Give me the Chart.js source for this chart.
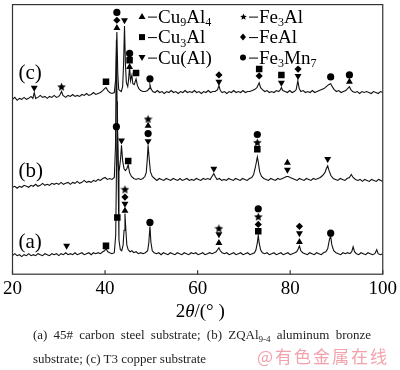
<!DOCTYPE html>
<html>
<head>
<meta charset="utf-8">
<script src="https://cdn.jsdelivr.net/npm/chart.js@4.4.1/dist/chart.umd.min.js"></script>
<style>
  html, body { margin: 0; padding: 0; background: #fff; }
  #wrap { position: relative; width: 400px; height: 370px; overflow: hidden; }
  #caption {
    position: absolute; left: 33px; top: 323px; width: 338px;
    font: 13px "Liberation Serif", serif; line-height: 24px; color: #222;
    text-align: justify;
  }
  #caption .sub { font-size: 9px; vertical-align: -3px; line-height: 0; }
  #mark {
    position: absolute; left: 257px; top: 346px; white-space: nowrap;
    font: 17px "Noto Sans CJK SC", sans-serif; line-height: 20px;
    color: #f2a2ac; letter-spacing: 2px;
  }
</style>
</head>
<body>
<div id="wrap">
  <canvas id="xrd" width="400" height="370"></canvas>
  <div id="caption">(a) 45# carbon steel substrate; (b) ZQAl<span class="sub">9-4</span> aluminum bronze substrate; (c) T3 copper substrate</div>
  <div id="mark">@有色金属在线</div>
</div>
<script>
// x ticks (2theta, degrees)
const xTicks = [20, 40, 60, 80, 100];

// patterns: [2theta, intensity (offset, a.u.)]
const patternC = [
  [20.0,179],[20.5,181],[21.0,178],[21.5,180],[22.0,179],[22.5,181],[23.0,179],[23.5,180],[24.0,182],[24.4,180],
  [24.7,186],[25.0,180],[25.5,181],[26.0,183],[26.5,181],[27.0,182],[27.5,180],[28.0,182],[28.5,181],[29.0,183],
  [29.5,181],[30.0,182],[30.3,184],[30.6,187],[30.9,183],[31.5,181],[32.0,183],[32.5,182],[33.0,184],[33.5,182],
  [34.0,183],[34.5,182],[35.0,184],[35.5,183],[36.0,185],[36.5,183],[37.0,184],[37.5,186],[38.0,184],[38.5,185],
  [39.0,186],[39.5,188],[39.9,190],[40.2,191],[40.6,188],[41.0,186],[41.5,185],[42.0,186],[42.3,200],[42.55,248],
  [42.75,205],[42.95,189],[43.2,188],[43.5,187],[43.8,192],[44.0,215],[44.2,254],[44.4,215],[44.6,196],[44.9,192],
  [45.1,200],[45.3,213],[45.5,198],[45.8,204],[46.0,195],[46.3,194],[46.7,200],[47.0,193],[47.3,190],[47.7,188],
  [48.2,187],[48.7,187],[49.2,188],[49.5,190],[49.7,194],[49.9,190],[50.3,187],[50.8,186],[51.3,188],[51.8,186],
  [52.3,187],[52.8,185],[53.3,187],[53.8,186],[54.3,188],[54.8,186],[55.3,187],[55.8,185],[56.3,187],[56.8,186],
  [57.3,188],[57.8,186],[58.3,187],[58.8,186],[59.3,188],[59.8,186],[60.3,187],[60.8,185],[61.3,187],[61.8,186],
  [62.3,188],[62.8,186],[63.3,187],[63.8,187],[64.3,189],[64.6,193],[64.9,188],[65.3,186],[65.8,187],[66.3,185],
  [66.8,187],[67.3,186],[67.8,188],[68.3,186],[68.8,187],[69.3,186],[69.8,188],[70.3,186],[70.8,187],[71.3,187],
  [71.8,188],[72.3,189],[72.8,191],[73.1,194],[73.3,196],[73.6,191],[74.0,189],[74.5,187],[75.0,188],[75.5,186],
  [76.0,187],[76.5,186],[77.0,188],[77.5,187],[77.9,189],[78.1,191],[78.4,188],[78.9,187],[79.4,186],[79.9,188],
  [80.4,186],[80.9,187],[81.3,189],[81.65,198],[81.95,190],[82.3,187],[82.8,188],[83.3,186],[83.8,187],[84.3,186],
  [84.8,188],[85.3,186],[85.8,187],[86.3,188],[86.8,189],[87.3,190],[87.8,192],[88.3,194],[88.75,195],[89.1,192],
  [89.5,189],[90.0,187],[90.5,188],[91.0,186],[91.5,187],[92.0,188],[92.4,190],[92.8,192],[93.1,189],[93.5,187],
  [94.0,186],[94.5,187],[95.0,185],[95.5,187],[96.0,186],[96.5,187],[97.0,186],[97.5,185],[98.0,187],[98.5,186],
  [99.0,185],[99.5,187],[100,186]
];

const patternB = [
  [20.0,89],[20.5,90],[21.0,88],[21.5,90],[22.0,89],[22.5,91],[23.0,90],[23.5,89],[24.0,91],[24.5,90],
  [25.0,92],[25.5,90],[26.0,91],[26.5,93],[27.0,91],[27.5,92],[28.0,91],[28.5,93],[29.0,92],[29.5,93],
  [30.0,92],[30.5,94],[31.0,92],[31.5,93],[32.0,94],[32.5,92],[33.0,94],[33.5,93],[34.0,95],[34.5,93],
  [35.0,94],[35.5,96],[36.0,94],[36.5,95],[37.0,94],[37.5,96],[38.0,95],[38.5,97],[39.0,96],[39.5,98],
  [40.0,99],[40.5,97],[41.0,98],[41.5,97],[42.0,99],[42.25,130],[42.45,240],[42.65,150],[42.85,112],[43.1,108],
  [43.35,118],[43.55,132],[43.8,116],[44.1,108],[44.4,106],[44.7,108],[45.0,112],[45.3,104],[45.7,100],[46.2,98],
  [46.7,97],[47.2,98],[47.7,97],[48.2,98],[48.6,100],[48.9,104],[49.1,116],[49.3,132],[49.5,120],[49.8,105],
  [50.2,100],[50.7,98],[51.2,96],[51.7,98],[52.2,97],[52.7,96],[53.2,98],[53.7,97],[54.2,96],[54.7,98],
  [55.2,97],[55.7,96],[56.2,98],[56.7,96],[57.2,97],[57.7,98],[58.2,96],[58.7,97],[59.2,96],[59.7,98],
  [60.2,97],[60.7,96],[61.2,98],[61.7,97],[62.2,98],[62.7,97],[63.1,100],[63.5,103],[63.8,100],[64.2,97],
  [64.7,98],[65.2,96],[65.7,97],[66.2,96],[66.7,98],[67.2,97],[67.7,96],[68.2,98],[68.7,97],[69.2,96],
  [69.7,98],[70.2,97],[70.7,96],[71.2,98],[71.7,99],[72.1,102],[72.5,110],[72.9,120],[73.1,115],[73.4,105],
  [73.8,100],[74.3,98],[74.8,97],[75.3,96],[75.8,98],[76.3,97],[76.8,96],[77.3,98],[77.8,97],[78.3,98],
  [78.8,99],[79.2,100],[79.6,100],[80.0,99],[80.5,98],[81.0,97],[81.5,96],[82.0,98],[82.5,97],[83.0,96],
  [83.5,98],[84.0,97],[84.5,96],[85.0,98],[85.5,97],[86.0,98],[86.5,99],[87.0,101],[87.5,104],[87.8,108],
  [88.1,111],[88.4,106],[88.8,101],[89.3,98],[89.8,97],[90.3,96],[90.8,98],[91.3,97],[91.8,96],[92.3,98],
  [92.8,99],[93.2,102],[93.6,99],[94.1,97],[94.6,96],[95.1,97],[95.6,95],[96.1,97],[96.6,96],[97.1,95],
  [97.6,97],[98.1,96],[98.6,95],[99.1,97],[99.6,96],[100,95]
];

const patternA = [
  [20.0,19],[20.5,21],[21.0,19],[21.5,20],[22.0,18],[22.5,20],[23.0,19],[23.5,21],[24.0,19],[24.5,20],
  [25.0,19],[25.5,21],[26.0,20],[26.5,19],[27.0,21],[27.5,20],[28.0,19],[28.5,21],[29.0,20],[29.5,21],
  [30.0,19],[30.5,21],[31.0,20],[31.5,22],[32.0,20],[32.5,21],[33.0,20],[33.5,22],[34.0,20],[34.5,21],
  [35.0,22],[35.5,20],[36.0,21],[36.5,22],[37.0,20],[37.5,22],[38.0,21],[38.5,22],[39.0,21],[39.5,23],
  [39.9,24],[40.2,26],[40.6,23],[41.0,22],[41.5,21],[42.0,22],[42.3,40],[42.5,120],[42.65,177],[42.8,110],
  [43.0,35],[43.3,25],[43.6,24],[43.9,30],[44.1,45],[44.3,62],[44.5,45],[44.7,30],[45.0,25],[45.4,23],
  [45.8,24],[46.2,22],[46.7,23],[47.2,21],[47.7,22],[48.2,21],[48.7,22],[49.2,24],[49.45,32],[49.7,49],
  [49.9,33],[50.2,24],[50.6,22],[51.1,21],[51.6,22],[52.1,20],[52.6,22],[53.1,21],[53.6,20],[54.1,22],
  [54.6,21],[55.1,20],[55.6,22],[56.1,21],[56.6,20],[57.1,22],[57.6,21],[58.1,20],[58.6,22],[59.1,21],
  [59.6,22],[60.1,20],[60.6,21],[61.1,22],[61.6,20],[62.1,21],[62.6,22],[63.1,21],[63.6,22],[64.0,23],
  [64.3,25],[64.6,27],[64.9,24],[65.3,22],[65.8,21],[66.3,22],[66.8,20],[67.3,21],[67.8,22],[68.3,20],
  [68.8,21],[69.3,22],[69.8,20],[70.3,21],[70.8,22],[71.3,20],[71.8,21],[72.3,22],[72.6,25],[72.9,32],
  [73.1,40],[73.3,32],[73.6,25],[74.0,22],[74.5,21],[75.0,22],[75.5,20],[76.0,21],[76.5,22],[77.0,20],
  [77.5,21],[78.0,22],[78.5,20],[79.0,21],[79.5,22],[80.0,20],[80.5,21],[81.0,22],[81.4,23],[81.75,26],
  [82.0,29],[82.3,24],[82.7,22],[83.2,21],[83.7,20],[84.2,22],[84.7,21],[85.2,20],[85.7,22],[86.2,21],
  [86.7,20],[87.2,22],[87.7,23],[88.1,26],[88.5,36],[88.75,39],[89.0,30],[89.4,24],[89.9,22],[90.4,21],
  [90.9,20],[91.4,22],[91.9,21],[92.4,22],[92.9,21],[93.3,23],[93.6,28],[93.9,23],[94.3,21],[94.8,20],
  [95.3,22],[95.8,21],[96.3,20],[96.8,22],[97.3,21],[97.8,20],[98.3,21],[98.7,25],[99.0,21],[99.5,20],[100,21]
];

// phase markers: [2theta, height]
const cu9al4Marks = [[42.55,252],[45.3,212],[92.8,197],[49.3,152],[79.4,114],[44.3,65],[64.6,32],[82.0,33]];
const cu3alMarks  = [[40.2,197],[45.3,219],[46.7,206],[73.3,210],[78.1,204],[45.0,116],[72.9,128],[40.2,29],[42.65,58],[73.1,44]];
const cualMarks   = [[24.7,191],[44.2,260],[64.6,197],[78.1,196],[81.7,203],[43.55,137],[49.3,136],[63.5,108],[79.4,107],[88.1,118],[31.7,29],[44.3,72],[64.6,41],[82.0,42]];
const fe3alMarks  = [[30.6,192],[49.3,159],[72.9,135],[44.3,87],[64.6,47],[73.1,59]];
const fealMarks   = [[42.55,260],[64.6,204],[73.3,203],[81.7,210],[44.3,79],[73.1,51],[82.0,49]];
const fe3mn7Marks = [[42.55,268],[45.3,226],[49.7,200],[88.75,202],[92.8,204],[42.45,151],[49.3,144],[72.9,143],[49.7,53],[73.1,67],[88.75,42]];

const pts = arr => arr.map(p => ({x: p[0], y: p[1]}));

// filled five-point star, used as a point style
function makeStar(size) {
    const c = document.createElement('canvas');
    c.width = size; c.height = size;
    const g = c.getContext('2d');
    const cx = size / 2, cy = size / 2 + 0.5, R = size / 2, r = R * 0.45;
    g.beginPath();
    for (let i = 0; i < 10; i++) {
        const a = -Math.PI / 2 + i * Math.PI / 5;
        const rr = i % 2 ? r : R;
        g.lineTo(cx + rr * Math.cos(a), cy + rr * Math.sin(a));
    }
    g.closePath();
    g.fillStyle = '#000';
    g.fill();
    return c;
}
const starBig = makeStar(9);
const starSmall = makeStar(7);

const markerSet = (data, style, radius, rotation) => ({
    data: pts(data),
    showLine: false,
    pointStyle: style,
    pointRadius: radius,
    pointRotation: rotation || 0,
    pointBackgroundColor: '#000',
    pointBorderColor: '#000',
    pointBorderWidth: 0,
    order: 1
});

const traceSet = data => ({
    data: pts(data),
    borderColor: '#111',
    borderWidth: 1.1,
    pointRadius: 0,
    tension: 0,
    order: 2
});

const SERIF = '"Liberation Serif", "Times New Roman", serif';

function drawRich(ctx, parts, x, y, size) {
    let cx = x;
    parts.forEach(([t, sub]) => {
        ctx.font = (sub ? Math.round(size * 0.65) : size) + 'px ' + SERIF;
        ctx.fillText(t, cx, sub ? y + size * 0.28 : y);
        cx += ctx.measureText(t).width;
    });
}

function drawMini(ctx, kind, x, y) {
    ctx.fillStyle = '#000';
    ctx.beginPath();
    if (kind === 'up') { ctx.moveTo(x, y - 3.5); ctx.lineTo(x + 3.5, y + 2.5); ctx.lineTo(x - 3.5, y + 2.5); }
    else if (kind === 'down') { ctx.moveTo(x, y + 3.5); ctx.lineTo(x + 3.5, y - 2.5); ctx.lineTo(x - 3.5, y - 2.5); }
    else if (kind === 'rect') { ctx.rect(x - 3, y - 3, 6, 6); }
    else if (kind === 'diamond') { ctx.moveTo(x, y - 3.5); ctx.lineTo(x + 3, y); ctx.lineTo(x, y + 3.5); ctx.lineTo(x - 3, y); }
    else if (kind === 'circle') { ctx.arc(x, y, 3, 0, Math.PI * 2); }
    else if (kind === 'star') { ctx.drawImage(starSmall, Math.round(x - 3.5), Math.round(y - 3.5)); return; }
    ctx.closePath();
    ctx.fill();
}

const framePlugin = {
    id: 'frame',
    afterDraw: chart => {
        const {ctx, chartArea: a, scales: {x, y}} = chart;
        ctx.save();
        // box
        ctx.strokeStyle = '#333';
        ctx.lineWidth = 1.2;
        ctx.strokeRect(a.left, a.top, a.right - a.left, a.bottom - a.top);
        // inner ticks
        xTicks.forEach(v => {
            const px = x.getPixelForValue(v);
            ctx.beginPath();
            ctx.moveTo(px, a.bottom);
            ctx.lineTo(px, a.bottom - 4);
            ctx.stroke();
        });
        ctx.fillStyle = '#000';
        ctx.textBaseline = 'middle';
        // axis title 2θ/(°)
        ctx.textAlign = 'left';
        const tx = (a.left + a.right) / 2 - 22, ty = 312;
        ctx.font = '19px ' + SERIF;
        ctx.fillText('2', tx, ty);
        let w = ctx.measureText('2').width;
        ctx.font = 'italic 19px ' + SERIF;
        ctx.fillText('θ', tx + w, ty);
        w += ctx.measureText('θ').width;
        ctx.font = '19px ' + SERIF;
        ctx.fillText('/(° )', tx + w, ty);
        // pattern labels
        ctx.font = '21px ' + SERIF;
        [['(c)', 205], ['(b)', 105], ['(a)', 32]].forEach(([t, v]) => {
            ctx.fillText(t, a.left + 6, y.getPixelForValue(v));
        });
        // legend
        const rows = [
            [['up', [['Cu', 0], ['9', 1], ['Al', 0], ['4', 1]]], ['star', [['Fe', 0], ['3', 1], ['Al', 0]]]],
            [['rect', [['Cu', 0], ['3', 1], ['Al', 0]]], ['diamond', [['FeAl', 0]]]],
            [['down', [['Cu(Al)', 0]]], ['circle', [['Fe', 0], ['3', 1], ['Mn', 0], ['7', 1]]]]
        ];
        const colX = [142, 243];
        rows.forEach((row, i) => {
            const ry = a.top + 12 + i * 20.5;
            row.forEach(([kind, parts], j) => {
                const mx = colX[j];
                drawMini(ctx, kind, mx, ry);
                ctx.strokeStyle = '#000';
                ctx.lineWidth = 1;
                ctx.beginPath();
                ctx.moveTo(mx + 6, ry + 0.5);
                ctx.lineTo(mx + 15, ry + 0.5);
                ctx.stroke();
                drawRich(ctx, parts, mx + 16, ry + 1, 19);
            });
        });
        ctx.restore();
    }
};

new Chart(document.getElementById('xrd'), {
    type: 'line',
    data: {
        datasets: [
            markerSet(cu9al4Marks, 'triangle', 4),
            markerSet(cu3alMarks, 'rect', 4.6),
            markerSet(cualMarks, 'triangle', 4, 180),
            markerSet(fe3alMarks, starBig, 4),
            markerSet(fealMarks, 'rectRot', 3.6),
            markerSet(fe3mn7Marks, 'circle', 3.6),
            traceSet(patternC),
            traceSet(patternB),
            traceSet(patternA)
        ]
    },
    options: {
        responsive: false,
        animation: false,
        events: [],
        layout: {padding: {left: 9, right: 14, top: 1, bottom: 67}},
        scales: {
            x: {
                type: 'linear',
                min: 20,
                max: 100,
                afterBuildTicks: s => { s.ticks = xTicks.map(v => ({value: v})); },
                ticks: {color: '#000', padding: 3, font: {family: SERIF, size: 19}},
                grid: {display: false, drawTicks: false},
                border: {display: false}
            },
            y: {display: false, min: 0, max: 276}
        },
        plugins: {legend: {display: false}, tooltip: {enabled: false}}
    },
    plugins: [framePlugin]
});
</script>
</body>
</html>
